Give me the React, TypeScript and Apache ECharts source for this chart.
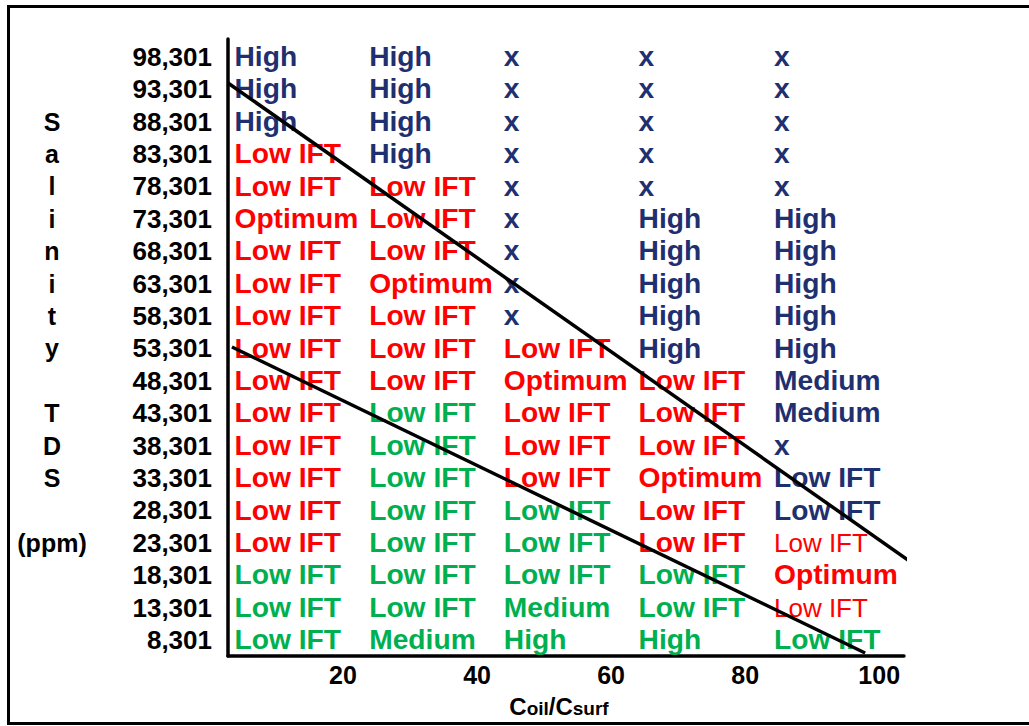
import React, { useEffect, useRef } from "react";
import * as echarts from "echarts";

// Salinity TDS rows (ppm), top to bottom
const salinity = [98301, 93301, 88301, 83301, 78301, 73301, 68301, 63301, 58301, 53301, 48301, 43301, 38301, 33301, 28301, 23301, 18301, 13301, 8301];
// Coil/Csurf column positions (left edge of each text column)
const ratioColumns = [3.8, 23.9, 44, 64.1, 84.3];
const xTicks = [20, 40, 60, 80, 100];

const cellText = [
  ["High", "High", "x", "x", "x"],
  ["High", "High", "x", "x", "x"],
  ["High", "High", "x", "x", "x"],
  ["Low IFT", "High", "x", "x", "x"],
  ["Low IFT", "Low IFT", "x", "x", "x"],
  ["Optimum", "Low IFT", "x", "High", "High"],
  ["Low IFT", "Low IFT", "x", "High", "High"],
  ["Low IFT", "Optimum", "x", "High", "High"],
  ["Low IFT", "Low IFT", "x", "High", "High"],
  ["Low IFT", "Low IFT", "Low IFT", "High", "High"],
  ["Low IFT", "Low IFT", "Optimum", "Low IFT", "Medium"],
  ["Low IFT", "Low IFT", "Low IFT", "Low IFT", "Medium"],
  ["Low IFT", "Low IFT", "Low IFT", "Low IFT", "x"],
  ["Low IFT", "Low IFT", "Low IFT", "Optimum", "Low IFT"],
  ["Low IFT", "Low IFT", "Low IFT", "Low IFT", "Low IFT"],
  ["Low IFT", "Low IFT", "Low IFT", "Low IFT", "Low IFT"],
  ["Low IFT", "Low IFT", "Low IFT", "Low IFT", "Optimum"],
  ["Low IFT", "Low IFT", "Medium", "Low IFT", "Low IFT"],
  ["Low IFT", "Medium", "High", "High", "Low IFT"],
];
// B = navy bold, R = red bold, G = green bold, r = red regular
const cellClass = [
  "BBBBB", "BBBBB", "BBBBB", "RBBBB", "RRBBB", "RRBBB", "RRBBB", "RRBBB", "RRBBB", "RRRBB",
  "RRRRB", "RGRRB", "RGRRB", "RGRRB", "RGGRB", "RGGRr", "GGGGR", "GGGGr", "GGGGG",
];

// boundary lines [Coil/Csurf, TDS]
const upperBoundary = [[2.84, 94243], [104.3, 20643]];
const lowerBoundary = [[3.43, 53508], [97.9, 6293]];

const axisTitleLetters: Record<number, string> = {
  88301: "S", 83301: "a", 78301: "l", 73301: "i", 68301: "n", 63301: "i", 58301: "t", 53301: "y",
  43301: "T", 38301: "D", 33301: "S", 23301: "(ppm)",
};

const FONT = '"Liberation Sans", Arial, sans-serif';
const classStyle: Record<string, { color: string; weight: string; size: number; sx: number }> = {
  B: { color: "#1F3070", weight: "bold", size: 27, sx: 1.045 },
  R: { color: "#FF0000", weight: "bold", size: 27, sx: 1.045 },
  G: { color: "#00B050", weight: "bold", size: 27, sx: 1.045 },
  r: { color: "#FF0000", weight: "normal", size: 26, sx: 1.0 },
};

export default function App() {
  const ref = useRef<HTMLDivElement>(null);
  useEffect(() => {
    if (!ref.current) return;
    const chart = echarts.init(ref.current, null, { renderer: "svg" });
    const cells: any[] = [];
    salinity.forEach((s, ri) => {
      ratioColumns.forEach((x, ci) => {
        cells.push([x, s, cellText[ri][ci], cellClass[ri][ci]]);
      });
    });
    const yMin = 5832;
    const yMax = 101032;
    chart.setOption({
      animation: false,
      backgroundColor: "#fff",
      grid: { left: 228, right: 125, top: 39, bottom: 70 },
      xAxis: {
        type: "value",
        min: 2.84,
        max: 103.7,
        axisLine: { show: true, onZero: false, lineStyle: { color: "#000", width: 3.5 } },
        axisTick: { show: false },
        splitLine: { show: false },
        axisLabel: {
          customValues: xTicks,
          margin: 6,
          color: "#000",
          fontWeight: "bold",
          fontSize: 25,
          fontFamily: FONT,
        },
        name: "{c|C}{s|oil}{c|/C}{s|surf}",
        nameLocation: "middle",
        nameGap: 38,
        nameTextStyle: {
          padding: [0, 14, 0, 0],
          rich: {
            c: { fontSize: 24, fontWeight: "bold", fontFamily: FONT, color: "#000", verticalAlign: "bottom", lineHeight: 24 },
            s: { fontSize: 19, fontWeight: "bold", fontFamily: FONT, color: "#000", verticalAlign: "bottom", lineHeight: 20 },
          },
        },
      },
      yAxis: [
        {
          type: "value",
          min: yMin,
          max: yMax,
          axisLine: { show: true, lineStyle: { color: "#000", width: 3.5 } },
          axisTick: { show: false },
          splitLine: { show: false },
          axisLabel: {
            customValues: salinity,
            margin: 16,
            color: "#000",
            fontWeight: "bold",
            fontSize: 26,
            fontFamily: FONT,
            formatter: (v: number) => v.toLocaleString("en-US"),
          },
        },
        {
          type: "value",
          min: yMin,
          max: yMax,
          position: "left",
          offset: 176,
          axisLine: { show: false },
          axisTick: { show: false },
          splitLine: { show: false },
          axisLabel: {
            customValues: Object.keys(axisTitleLetters).map(Number),
            margin: 0,
            align: "center",
            color: "#000",
            fontWeight: "bold",
            fontSize: 25,
            fontFamily: FONT,
            formatter: (v: number) => axisTitleLetters[v] || "",
          },
        },
      ],
      graphic: [
        {
          type: "rect",
          shape: { x: 8.5, y: 6.5, width: 1040, height: 717 },
          style: { stroke: "#000", lineWidth: 3, fill: "none" },
          silent: true,
        },
      ],
      series: [
        {
          type: "custom",
          data: cells,
          xAxisIndex: 0,
          yAxisIndex: 0,
          clip: false,
          renderItem: (params: any, api: any) => {
            const idx = params.dataIndex;
            const d = cells[idx];
            const p = api.coord([d[0], d[1]]);
            const st = classStyle[d[3]];
            return {
              type: "text",
              x: p[0],
              y: p[1],
              scaleX: st.sx,
              style: {
                text: d[2],
                fill: st.color,
                font: `${st.weight} ${st.size}px ${FONT}`,
                align: "left",
                verticalAlign: "middle",
              },
            };
          },
          z: 2,
        },
        {
          type: "line",
          data: upperBoundary,
          symbol: "none",
          clip: false,
          lineStyle: { color: "#000", width: 3.5 },
          z: 5,
        },
        {
          type: "line",
          data: lowerBoundary,
          symbol: "none",
          clip: false,
          lineStyle: { color: "#000", width: 3.5 },
          z: 5,
        },
      ],
    });
    return () => chart.dispose();
  }, []);
  return <div ref={ref} style={{ position: "fixed", left: 0, top: 0, width: 1029, height: 726 }} />;
}
